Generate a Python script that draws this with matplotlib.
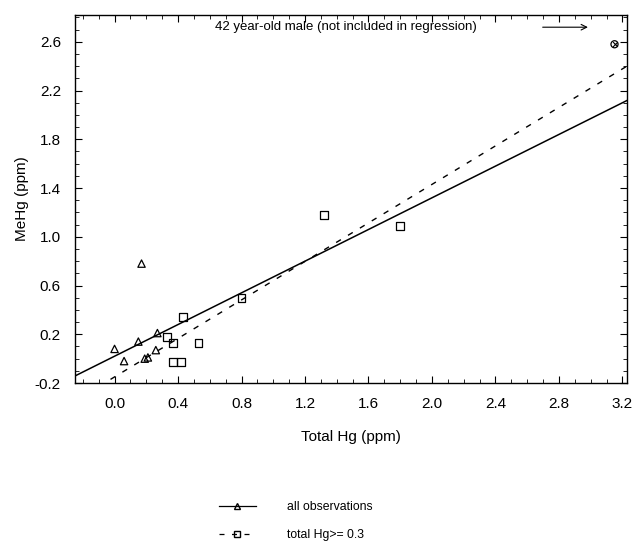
import numpy as np
import matplotlib
matplotlib.use("Agg")
import matplotlib.pyplot as plt
from matplotlib.ticker import MultipleLocator, FixedLocator
from matplotlib.lines import Line2D

plt.rcParams['font.family'] = ['Liberation Sans', 'DejaVu Sans']

# ---- data (ppm) ----
tri_x = [0.00, 0.06, 0.15, 0.17, 0.19, 0.21, 0.26, 0.27]
tri_y = [0.08, -0.02, 0.14, 0.78, 0.00, 0.01, 0.07, 0.21]

sq_x = [0.33, 0.37, 0.43, 0.53, 0.37, 0.42, 0.80, 1.32, 1.80]
sq_y = [0.18, 0.13, 0.34, 0.13, -0.03, -0.03, 0.50, 1.18, 1.09]

outlier_x = [3.15]
outlier_y = [2.58]

# regression lines: (intercept, slope)
fit_all = (0.02, 0.65)
fit_high = (-0.15, 0.79)

x_ticks = [0.0, 0.4, 0.8, 1.2, 1.6, 2.0, 2.4, 2.8, 3.2]
y_ticks = [-0.2, 0.2, 0.6, 1.0, 1.4, 1.8, 2.2, 2.6]

fig = plt.figure(figsize=(6.4, 5.46), dpi=100)
ax = fig.add_axes([0.117, 0.2985, 0.863, 0.674])

xs = np.array([-0.25, 3.23])
ax.plot(xs, fit_all[0] + fit_all[1] * xs, color="black", lw=1.1)
ax.plot(xs, fit_high[0] + fit_high[1] * xs, color="black", lw=1.0,
        linestyle=(0, (4, 6)))

ax.scatter(tri_x, tri_y, marker="^", s=28, facecolors="none",
           edgecolors="black", linewidths=0.9, zorder=3)
ax.scatter(sq_x, sq_y, marker="s", s=30, facecolors="none",
           edgecolors="black", linewidths=0.9, zorder=3)
ax.scatter(outlier_x, outlier_y, marker="o", s=26, facecolors="none",
           edgecolors="black", linewidths=0.9, zorder=3)
ax.scatter(outlier_x, outlier_y, marker="x", s=12, color="black",
           linewidths=0.8, zorder=3)

ax.text(0.63, 2.72, "42 year-old male (not included in regression)",
        fontsize=9.5, va="center", ha="left")
ax.annotate("", xy=(3.00, 2.72), xytext=(2.68, 2.72),
            arrowprops=dict(arrowstyle="->", color="black", lw=0.8))

ax.set_xlim(-0.25, 3.23)
ax.set_ylim(-0.2, 2.82)
ax.xaxis.set_major_locator(FixedLocator(x_ticks))
ax.yaxis.set_major_locator(FixedLocator(y_ticks))
ax.xaxis.set_minor_locator(MultipleLocator(0.1))
ax.yaxis.set_minor_locator(MultipleLocator(0.1))
ax.set_xticklabels([f"{v:.1f}" for v in x_ticks])
ax.set_yticklabels([f"{v:.1f}" for v in y_ticks])
ax.tick_params(which="both", direction="in", top=True, right=True,
               labelsize=11, pad=10)
ax.tick_params(which="major", length=5)
ax.tick_params(which="minor", length=3)
for s in ax.spines.values():
    s.set_linewidth(1.0)

ax.set_xlabel("Total Hg (ppm)", fontsize=11, labelpad=14)
ax.set_ylabel("MeHg (ppm)", fontsize=11, labelpad=4)

handles = [
    Line2D([], [], color="black", lw=0.9, marker="^", markerfacecolor="none",
           markersize=5),
    Line2D([], [], color="black", lw=0.9, linestyle=(0, (4, 6)), marker="s",
           markerfacecolor="none", markersize=5),
]
fig.legend(handles, ["all observations", "total Hg>= 0.3"],
           loc="center left", bbox_to_anchor=(0.325, 0.045), frameon=False,
           fontsize=8.8, handlelength=3, labelspacing=1.3, handletextpad=2.6)

fig.savefig("out.png", dpi=100)
